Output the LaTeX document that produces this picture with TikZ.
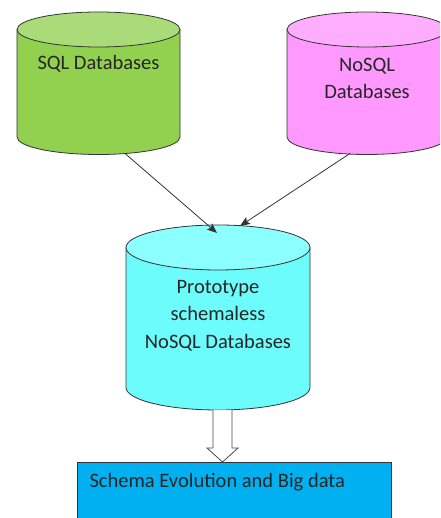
\documentclass[tikz,border=0pt]{standalone}
\usepackage{fontspec}
\setmainfont{Carlito}
\usetikzlibrary{arrows.meta,calc,positioning}

\definecolor{sqlbody}{HTML}{92D050}
\definecolor{sqlend}{HTML}{A9DC78}
\definecolor{nosqlbody}{HTML}{FF99FF}
\definecolor{nosqlend}{HTML}{FFAEFF}
\definecolor{protobody}{HTML}{6CFCFC}
\definecolor{protoend}{HTML}{8CFFFF}
\definecolor{evoblue}{HTML}{00B0F0}

\tikzset{
  dbline/.style={draw=black!80, line width=0.8pt},
  dbtext/.style={align=center, font=\fontsize{20.5}{27.5}\selectfont, text=black!85},
  feed/.style={-{Stealth[length=10pt,width=8pt,inset=2pt]}, black!80, line width=0.8pt}
}

% a database drum: name, centre of top face (x,y), x radius, y radius,
% side height, body colour, top colour
\newcommand{\dbdrum}[8]{%
  \fill[#7] (#2-#4,#3) -- (#2-#4,#3-#6)
    arc[start angle=180, end angle=360, x radius=#4, y radius=#5] -- (#2+#4,#3) -- cycle;
  \draw[dbline] (#2-#4,#3) -- (#2-#4,#3-#6)
    arc[start angle=180, end angle=360, x radius=#4, y radius=#5] -- (#2+#4,#3);
  \draw[dbline, fill=#8] (#2,#3) ellipse[x radius=#4, y radius=#5];
  \coordinate (#1-top) at (#2,#3);
  \coordinate (#1-base) at (#2,#3-#6-#5);
}

\begin{document}
\begin{tikzpicture}[x=1pt,y=1pt]
\useasboundingbox (0,0) rectangle (440,518);
\clip (0,0) rectangle (440,518);

% the two source stores
\dbdrum{sql}{98.5}{488.5}{81.5}{17.5}{107.5}{sqlbody}{sqlend}
\dbdrum{nosql}{367}{488.5}{80}{17.5}{107.5}{nosqlbody}{nosqlend}

% the target store
\dbdrum{proto}{218}{270.5}{92}{22.5}{140}{protobody}{protoend}

\node (sqltxt) [dbtext] at (98.5,454) {SQL Databases};
\node (nosqltxt) [dbtext] at (367,439.5) {NoSQL\\Databases};
\node (prototxt) [dbtext] at (218,202.5) {Prototype\\schemaless\\NoSQL Databases};

\draw[feed] ($(sql-base)+(26.5,1)$) -- ($(proto-top)+(-1,14.5)$);
\draw[feed] ($(nosql-base)+(-17,1)$) -- ($(proto-top)+(22,21.5)$);

% result box
\node (evo) [draw=black!80, line width=0.8pt, fill=evoblue, minimum width=314pt,
  minimum height=80pt, anchor=north west] at (77,56) {};
\node (evotxt) [anchor=west, font=\fontsize{20.5}{24}\selectfont, text=black!85]
  at (86,36) {Schema Evolution and Big data};

% hollow arrow down into the box
\begin{scope}[shift={(proto-base)}]
  \draw[draw=black!70, fill=white, line width=0.8pt]
    (-5,0) -- (-5,-38) -- (-11,-38) -- (4.5,-52) -- (20,-38) -- (14,-38) -- (14,0);
\end{scope}

\end{tikzpicture}
\end{document}
